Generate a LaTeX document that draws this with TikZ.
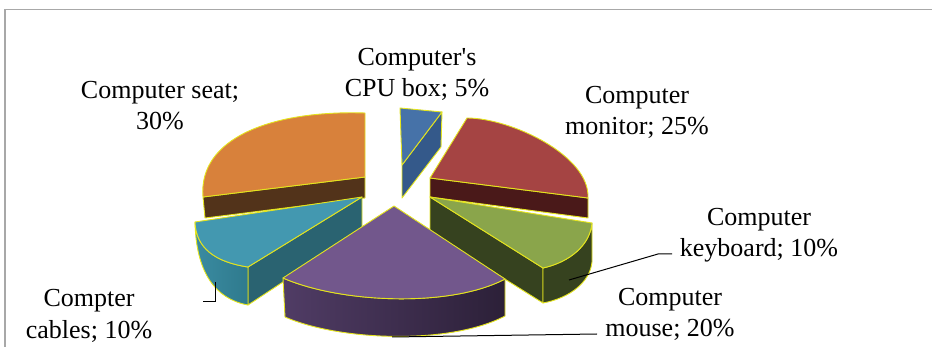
\documentclass[tikz,border=0pt]{standalone}
\usepackage{fontspec}
\setmainfont{Liberation Serif}
\usetikzlibrary{calc}
\definecolor{edgeyel}{HTML}{E4E41E}
\definecolor{framegray}{HTML}{A8A8A8}
\definecolor{cputop}{HTML}{4672A8}
\definecolor{cpuside}{HTML}{34598A}
\definecolor{montop}{HTML}{A54443}
\definecolor{monside}{HTML}{4A1919}
\definecolor{seattop}{HTML}{D8813B}
\definecolor{seatside}{HTML}{52331A}
\definecolor{cabtop}{HTML}{4398B0}
\definecolor{cabout}{HTML}{3A8BA1}
\definecolor{cabout2}{HTML}{2F7A8D}
\definecolor{cabin}{HTML}{2A6371}
\definecolor{kbdtop}{HTML}{8AA54B}
\definecolor{kbdside}{HTML}{36421F}
\definecolor{msetop}{HTML}{72578C}
\definecolor{mseside}{HTML}{503C65}
\definecolor{mseside2}{HTML}{2C2038}

\begin{document}
\begin{tikzpicture}[x=1pt,y=-1pt,
  slice/.style={draw=edgeyel,line width=0.9pt,line join=round},
  lbl/.style={align=center,anchor=base,inner sep=0pt,font=\fontsize{26}{31.5}\selectfont},
  lead/.style={line width=1pt,black}]
\useasboundingbox (0,0) rectangle (932,347);
\draw[framegray,line width=1.6pt](5,347)--(5,9.5)--(932,9.5);

% CPU box
\draw[slice,fill=cpuside](402,165)--(442,112)--(441,147)--(402,198)--cycle;
\draw[slice,fill=cputop](400,108)--(442,112)--(402,165)--cycle;
% monitor
\draw[slice,fill=monside](430,178)--(588,198)--(588,218)--(430,197)--cycle;
\draw[slice,fill=montop](430,178)--(467,118)..controls(510,118)and(590,155)..(588,198)--cycle;
% seat
\draw[slice,fill=seatside](203,197)--(365,177)--(365,198)--(205,218)--cycle;
\draw[slice,fill=seattop](203,197)--(365,177)--(365,113)..controls(272,110)and(198,138)..(203,197);
% cables
\draw[slice,fill=cabin](248,267)--(362,197)--(362,230)--(248,305)--cycle;
\draw[slice,left color=cabout,right color=cabout2](195,222)..controls(196,248)and(215,262)..(248,267)
  --(248,305)..controls(215,299)and(196,272)..(195,222)--cycle;
\draw[slice,fill=cabtop](195,222)--(362,197)--(248,267)..controls(215,262)and(196,248)..(195,222)--cycle;
% keyboard
\draw[slice,fill=kbdside](430,197)--(543,268)--(543,303)--(430,232)--cycle;
\draw[slice,fill=kbdside](592,223)..controls(590,245)and(570,262)..(543,268)
  --(543,303)..controls(570,298)and(590,282)..(592,262)--cycle;
\draw[slice,fill=kbdtop](430,197)--(592,223)..controls(590,245)and(570,262)..(543,268)--cycle;
% mouse
\draw[slice,left color=mseside,right color=mseside2](283,278)..controls(340,303)and(450,308)..(505,279)
  --(505,316)..controls(450,345)and(340,341)..(285,317)--cycle;
\draw[slice,fill=msetop](394,206)--(505,279)..controls(450,308)and(340,303)..(283,278)--cycle;

% labels (base = last line)
\foreach \n/\x/\y/\t in {cpu/417/97/{Computer\textquotesingle s\\CPU box; 5\%},
  seat/160/130/{Computer seat;\\30\%},
  mon/637/135/{Computer\\monitor; 25\%},
  kbd/759/257/{Computer\\keyboard; 10\%},
  mse/670/337/{Computer\\mouse; 20\%},
  cab/89/338/{Compter\\cables; 10\%}}{
  \node[lbl] (\n) at (\x,\y){\t};}

% leader lines
\coordinate (kbdpt) at (569,280);
\coordinate (kbdbend) at (658,254);
\coordinate (kbdend) at (672,254);
\coordinate (msept) at (392,337);
\coordinate (mseend) at (597,334);
\coordinate (cabpt) at (215,282);
\coordinate (cabbend) at (215,302);
\coordinate (cabend) at (203,302);
\draw[lead](kbdpt)--(kbdbend)--(kbdend);
\draw[lead](msept)--(mseend);
\draw[lead](cabpt)--(cabbend)--(cabend);
\end{tikzpicture}
\end{document}
